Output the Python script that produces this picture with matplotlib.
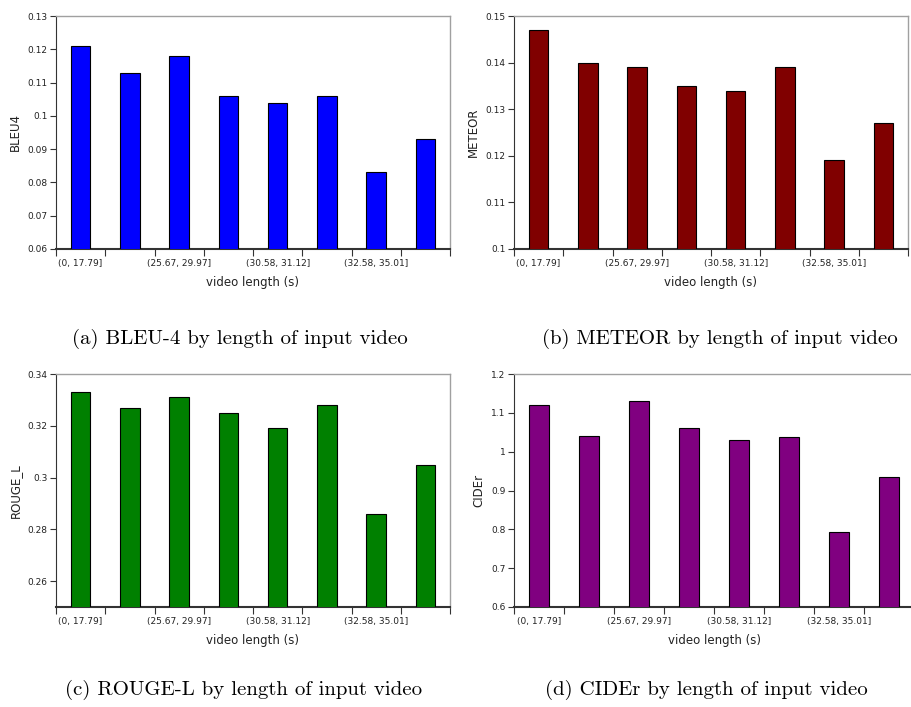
import matplotlib
matplotlib.use("Agg")
import matplotlib.pyplot as plt
import numpy as np
from matplotlib.ticker import FormatStrFormatter, FixedLocator

bin_labels = ["(0, 17.79]", "(25.67, 29.97]", "(30.58, 31.12]", "(32.58, 35.01]"]
n_bins = 8

bleu4 = [0.121, 0.113, 0.118, 0.106, 0.104, 0.106, 0.083, 0.093]
meteor = [0.147, 0.140, 0.139, 0.135, 0.134, 0.139, 0.119, 0.127]
rouge_l = [0.333, 0.327, 0.331, 0.325, 0.319, 0.328, 0.286, 0.305]
cider = [1.119, 1.040, 1.130, 1.061, 1.031, 1.039, 0.793, 0.936]

panels = [
    # values, ylabel, colour, ylim, yticks, caption, axes rect (px: left, top, width, height), caption centre (px)
    (bleu4, "BLEU4", "#0000ff", (0.06, 0.13), np.arange(0.06, 0.1301, 0.01),
     "(a) BLEU-4 by length of input video", (56, 16, 394, 233), (240, 339)),
    (meteor, "METEOR", "#800000", (0.10, 0.15), np.arange(0.10, 0.1501, 0.01),
     "(b) METEOR by length of input video", (514, 16, 394, 233), (720, 339)),
    (rouge_l, "ROUGE_L", "#008000", (0.25, 0.34), np.arange(0.26, 0.3401, 0.02),
     "(c) ROUGE-L by length of input video", (56, 374, 394, 233), (244, 690)),
    (cider, "CIDEr", "#800080", (0.6, 1.2), np.arange(0.6, 1.201, 0.1),
     "(d) CIDEr by length of input video", (514, 374, 400, 233), (706, 690)),
]

W, H = 912, 707
fig = plt.figure(figsize=(W / 100, H / 100), dpi=100)

for vals, ylab, col, ylim, yt, cap, (l, t, w, h), (cx, cy) in panels:
    ax = fig.add_axes([l / W, (H - t - h) / H, w / W, h / H])
    x = np.arange(n_bins)
    ax.bar(x, vals, width=0.4, color=col, edgecolor="black", linewidth=0.8, zorder=3)
    ax.set_xlim(-0.5, n_bins - 0.5)
    ax.set_ylim(*ylim)

    ax.set_yticks(yt)
    ax.yaxis.set_major_formatter(FormatStrFormatter("%g"))

    # ticks at bin edges, labels under every other bin
    ax.xaxis.set_major_locator(FixedLocator(np.arange(-0.5, n_bins, 1.0)))
    ax.xaxis.set_major_formatter(plt.NullFormatter())
    ax.xaxis.set_minor_locator(FixedLocator(np.arange(0, n_bins, 2)))
    ax.set_xticklabels(bin_labels, minor=True)
    ax.tick_params(axis="x", which="minor", length=0, pad=7, labelsize=6.5, colors="#222222")
    ax.tick_params(axis="x", which="major", length=5, width=0.8, color="#333333", direction="out")
    ax.tick_params(axis="y", length=4, width=0.8, color="#333333", labelsize=6.5, pad=2,
                   labelcolor="#222222")

    for s in ("top", "right"):
        ax.spines[s].set_color("#a0a0a0")
        ax.spines[s].set_linewidth(1.0)
    ax.spines["left"].set_color("#333333")
    ax.spines["left"].set_linewidth(0.8)
    ax.spines["bottom"].set_color("#333333")
    ax.spines["bottom"].set_linewidth(1.5)

    ax.set_xlabel("video length (s)", fontsize=8.5, labelpad=6, color="#222222")
    ax.set_ylabel(ylab, fontsize=8.5, labelpad=4, color="#222222")

    fig.text(cx / W, 1 - cy / H, cap, ha="center", va="center",
             fontsize=15, family="cmr10")

fig.savefig("out.png", dpi=100)
